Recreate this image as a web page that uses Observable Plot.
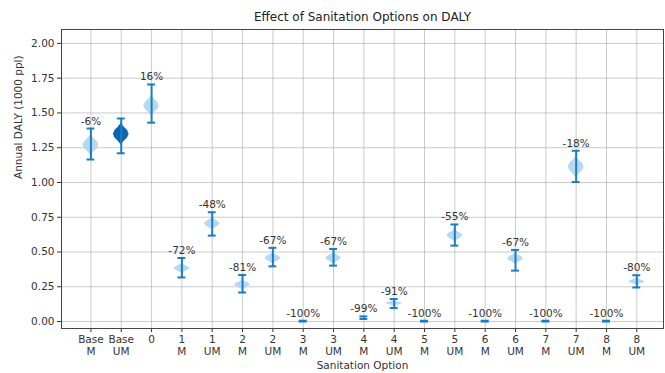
<!DOCTYPE html>
<html><head><meta charset="utf-8">
<script src="https://cdn.jsdelivr.net/npm/d3@7"></script>
<script src="https://cdn.jsdelivr.net/npm/@observablehq/plot@0.6"></script>
<style>
body{margin:0;background:#fff;font-family:"DejaVu Sans",sans-serif;}
#wrap{position:relative;width:665px;height:373px;}
#title{position:absolute;left:61px;width:603px;top:9px;text-align:center;font-size:12px;color:#222;line-height:16px;}
#chart{position:absolute;left:0;top:0;}
</style></head><body>
<div id="wrap"><div id="chart"></div><div id="title">Effect of Sanitation Options on DALY</div></div>
<script>
// categories (tick labels)
const categories = ["Base\nM","Base\nUM","0","1\nM","1\nUM","2\nM","2\nUM","3\nM","3\nUM","4\nM","4\nUM","5\nM","5\nUM","6\nM","6\nUM","7\nM","7\nUM","8\nM","8\nUM"];
// violin centres (Annual DALY, 1000 ppl)
const centers = [1.268,1.347,1.551,0.382,0.703,0.263,0.455,0,0.455,0.027,0.13,0,0.618,0,0.452,0,1.111,0,0.286];
// error bar ends
const errLow  = [1.165,1.21,1.43,0.317,0.618,0.209,0.397,0,0.402,0.018,0.097,0,0.546,0,0.366,0,1.003,0,0.245];
const errHigh = [1.388,1.46,1.705,0.457,0.786,0.335,0.53,0.006,0.522,0.037,0.162,0.006,0.698,0.006,0.515,0.006,1.228,0.006,0.333];
// half-height of each violin body
const violinHalf = [0.075,0.08,0.075,0.035,0.045,0.035,0.04,0,0.04,0,0.02,0,0.045,0,0.04,0,0.08,0,0.025];
// change vs Base UM
const pctLabels = ["-6%","","16%","-72%","-48%","-81%","-67%","-100%","-67%","-99%","-91%","-100%","-55%","-100%","-67%","-100%","-18%","-100%","-80%"];
const yTicks = [0,0.25,0.5,0.75,1,1.25,1.5,1.75,2];

const rows = categories.map((c, i) => ({i, c, center: centers[i], lo: errLow[i], hi: errHigh[i], vh: violinHalf[i], pct: pctLabels[i]}));

const W = 0.26, CAP = 0.13;
const profile = [[-1,0],[-0.66,0.35],[-0.33,0.8],[0,1],[0.33,0.8],[0.66,0.35],[1,0]];
const violin = rows.filter(d => d.vh > 0).flatMap(d => profile.map(([t, p]) => ({i: d.i, y: d.center + t * d.vh, x1: d.i - p * W, x2: d.i + p * W})));

const lightBlue = "#a9d1ef", darkBlue = "#0b65b1", barBlue = "#1a7dc4";

const chart = Plot.plot({
  width: 665, height: 373,
  marginTop: 29, marginBottom: 45, marginLeft: 61, marginRight: 2,
  style: {fontFamily: "DejaVu Sans, sans-serif", fontSize: "10px", color: "#333", background: "#fff"},
  x: {type: "linear", domain: [-0.97, 18.88]},
  y: {domain: [-0.05, 2.1]},
  marks: [
    Plot.gridX(d3.range(categories.length), {stroke: "#a8a8a8", strokeOpacity: 0.6}),
    Plot.gridY(yTicks, {stroke: "#a8a8a8", strokeOpacity: 0.6}),
    Plot.areaX(violin.filter(d => d.i !== 1), {y: "y", x1: "x1", x2: "x2", z: "i", fill: lightBlue, fillOpacity: 0.85, curve: "linear"}),
    Plot.areaX(violin.filter(d => d.i === 1), {y: "y", x1: "x1", x2: "x2", z: "i", fill: darkBlue, curve: "linear"}),
    Plot.ruleX(rows, {x: "i", y1: "lo", y2: "hi", stroke: barBlue, strokeWidth: 2}),
    Plot.ruleY(rows, {y: "hi", x1: d => d.i - CAP, x2: d => d.i + CAP, stroke: barBlue, strokeWidth: 2}),
    Plot.ruleY(rows, {y: "lo", x1: d => d.i - CAP, x2: d => d.i + CAP, stroke: barBlue, strokeWidth: 2}),
    Plot.text(rows.filter(d => d.pct), {x: "i", y: "hi", text: "pct", dy: -4, lineAnchor: "bottom", fill: "#333", fontSize: 10.5}),
    Plot.axisY(yTicks, {tickFormat: d3.format(".2f"), tickSize: 4, tickPadding: 3, fontSize: 10.5, label: null}),
    Plot.text(["Annual DALY (1000 ppl)"], {frameAnchor: "left", rotate: -90, dx: -43, fontSize: 10.5, fill: "#333"}),
    Plot.axisX(d3.range(categories.length), {tickFormat: i => categories[i], tickSize: 4, tickPadding: 2, fontSize: 10.5, label: null, lineHeight: 1.15}),
    Plot.text(["Sanitation Option"], {frameAnchor: "bottom", dy: 40, fontSize: 10.5, fill: "#333"}),
    Plot.frame({stroke: "#444"})
  ]
});
document.getElementById("chart").appendChild(chart);
</script></body></html>
